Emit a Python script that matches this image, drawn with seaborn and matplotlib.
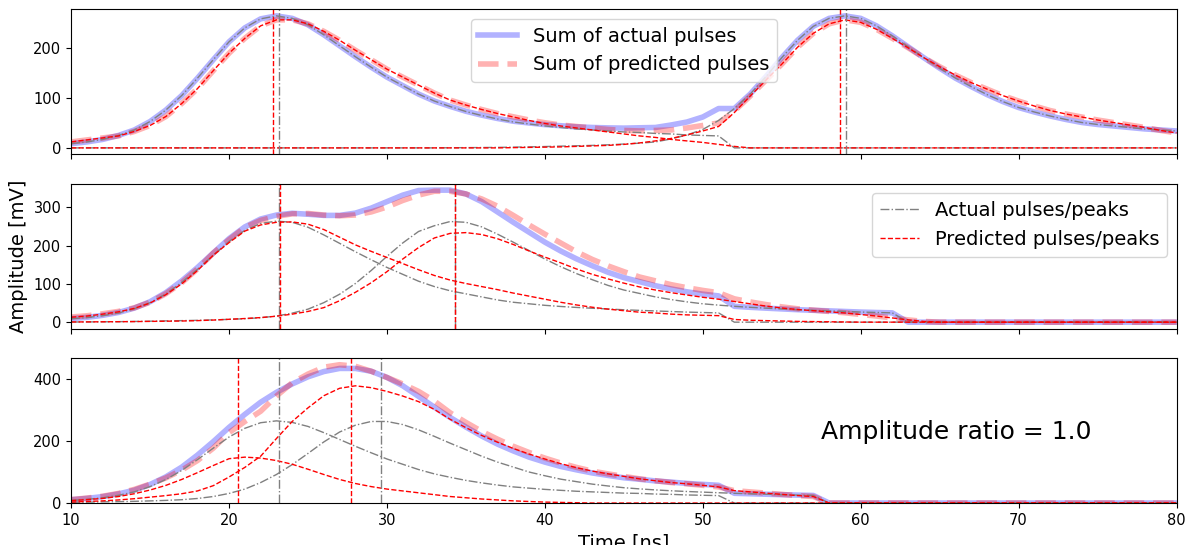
import numpy as np
import matplotlib
matplotlib.use('Agg')
import matplotlib.pyplot as plt
import seaborn as sns

# Time axis shared by all curves (ns)
time_ns = list(range(10, 81))

# Panel 1 - two well separated pulses (values in mV)
p1_actual_1 = [8.5, 12, 17, 25, 36, 53, 76, 105, 140, 177,
               213, 241, 259, 265, 260, 247, 227, 205, 183, 162,
               142, 125, 108, 94, 83, 73, 65, 58, 52, 48,
               44, 41, 38, 36, 34, 32, 31, 29, 28, 26,
               25, 24]                                   # t = 10..51
p1_actual_2 = [0.3, 0.5, 0.7, 1, 1.5, 2, 2.7, 3.5, 4.2, 5,
               6.2, 7.7, 9.4, 12, 18, 26, 37, 55, 79, 108,
               143, 181, 216, 244, 260, 265, 260, 245, 225, 203,
               181, 160, 140, 123, 107, 93, 81, 72, 64, 57,
               51, 47, 44, 41, 38, 36, 34]               # t = 34..80
p1_pred_1 = [12, 16, 20, 24, 33, 45, 63, 89, 119, 155,
             190, 220, 245, 257, 257, 249, 234, 216, 196, 177,
             158, 142, 126, 110, 96, 86, 77, 69, 62, 55,
             49, 44, 40, 36, 32, 28, 24, 21, 17, 14,
             11, 7, 3, 0]                                # t = 10..53
p1_pred_2 = [0.5, 1, 1.5, 2, 3, 4, 5, 7, 10, 14,
             19, 26, 34, 43, 71, 104, 136, 168, 202, 230,
             249, 257, 252, 238, 220, 201, 181, 163, 146, 131,
             118, 105, 94, 84, 75, 68, 62, 56, 51, 46,
             41, 35, 30]                                 # t = 38..80
p1_actual_peaks = [23.15, 59.05]
p1_pred_peaks = [22.76, 58.67]

# Panel 2 - two overlapping pulses
p2_actual_1 = [9, 12, 17, 24, 35, 51, 74, 104, 138, 175,
               211, 240, 258, 264, 261, 248, 228, 206, 184, 163,
               143, 125, 107, 93, 82, 74, 66, 58, 52, 48,
               44, 41, 38.5, 36.4, 34.4, 32.4, 30.8, 29.3, 27.8, 26.3,
               25.2, 24.2]                               # t = 10..51
p2_actual_2 = [0.4, 0.6, 0.9, 1.3, 1.8, 2.5, 3.3, 4, 4.8, 5.9,
               7.3, 9, 11.6, 16, 23.6, 34, 51, 73, 101, 135,
               172, 207, 237, 252, 263, 261, 249, 230, 209, 187,
               165, 145, 127, 111, 96, 84, 75, 66, 59, 53,
               48, 44.5, 41.4, 38.8, 36.6, 34.6, 32.6, 31, 29.5, 28,
               26.4, 25.3, 24.3]                         # t = 10..62
p2_pred_1 = [13, 16, 21, 27, 36, 50, 72, 100, 135, 175,
             208, 238, 254, 261, 262, 256, 242, 222, 202, 185,
             169, 153, 137, 122, 110, 101, 93, 85, 76, 68,
             60, 52, 45, 39, 34, 30, 26, 24, 21, 19,
             18, 17, 7, 5, 4, 3, 2, 1.5, 1, 0.5,
             0]                                          # t = 10..60
p2_pred_2 = [0.5, 0.7, 1, 1.2, 1.5, 2, 2.5, 3, 4, 5.5,
             7.5, 9.5, 12, 15.5, 21, 28, 38, 56, 78, 103,
             132, 165, 195, 220, 232, 234, 229, 218, 203, 186,
             170, 155, 139, 125, 113, 102, 92, 84, 77, 71,
             65, 60, 54, 48, 42, 37, 33, 30, 27, 24,
             20, 16, 11, 6, 2, 0]                        # t = 10..65
p2_actual_peaks = [23.17, 34.28]
p2_pred_peaks = [23.2, 34.3]

# Panel 3 - strongly overlapping pulses
p3_actual_1 = [8.5, 12, 17, 25, 36, 53, 76, 105, 140, 177,
               213, 241, 259, 265, 260, 247, 227, 205, 183, 162,
               142, 125, 108, 94, 83, 73, 65, 58, 52, 48,
               44, 41, 38, 36, 34, 32, 31, 29, 28, 26,
               25, 24]                                   # t = 10..51
p3_actual_2 = [2.3, 3, 3.8, 4.5, 5.5, 6.9, 8.5, 10.7, 14.7, 21,
               31, 45, 66, 92, 124, 160, 197, 229, 251, 263,
               263, 253, 236, 215, 193, 172, 151, 132, 116, 100,
               88, 77, 69, 61, 55, 49.4, 45.6, 42.3, 39.5, 37.2,
               35.2, 33.2, 31.4, 29.9, 28.4, 26.9, 25.6, 24.6]  # t = 10..57
p3_pred_1 = [8, 11, 15, 21, 30, 42, 57, 76, 98, 121,
             143, 148, 145, 137, 125, 109, 92, 76, 63, 53,
             45, 39, 33, 27, 21, 17, 13, 10, 7, 5,
             3, 2, 1, 0]                                 # t = 10..43
p3_pred_2 = [3, 5, 7, 10, 14, 19, 24, 30, 39, 56,
             84, 115, 151, 208, 263, 307, 346, 370, 378, 372,
             360, 345, 327, 302, 270, 243, 218, 196, 176, 158,
             142, 127, 114, 103, 94, 86, 78, 72, 66, 62,
             57, 52, 40, 36, 32, 28, 24, 21, 0]          # t = 10..58
p3_actual_peaks = [23.15, 29.6]
p3_pred_peaks = [20.55, 27.7]

amplitude_ratio = 1.0


def pad(start, vals):
    # place a pulse onto the shared time axis (zero outside its support)
    out = np.zeros(len(time_ns))
    i = time_ns.index(start)
    out[i:i + len(vals)] = vals
    return out


def draw_panel(ax, actual, predicted, actual_peaks, pred_peaks):
    t = np.array(time_ns)
    sns.lineplot(x=t, y=np.sum(actual, axis=0), ax=ax, color='blue',
                 alpha=0.3, lw=4, legend=False)
    h_sum_act = ax.lines[-1]
    sns.lineplot(x=t, y=np.sum(predicted, axis=0), ax=ax, color='red',
                 alpha=0.3, lw=4, linestyle='--', legend=False)
    h_sum_pred = ax.lines[-1]
    for p in actual:
        sns.lineplot(x=t, y=p, ax=ax, color='grey', lw=1, linestyle='-.', legend=False)
    h_act = ax.lines[-1]
    for p in predicted:
        sns.lineplot(x=t, y=p, ax=ax, color='red', lw=1, linestyle='--', legend=False)
    h_pred = ax.lines[-1]
    for x in actual_peaks:
        ax.axvline(x, color='grey', lw=1, linestyle='-.')
    for x in pred_peaks:
        ax.axvline(x, color='red', lw=1, linestyle='--')
    ax.set_xlim(10, 80)
    ax.tick_params(labelsize=10.5)
    return h_sum_act, h_sum_pred, h_act, h_pred


fig, axes = plt.subplots(3, 1, figsize=(11.86, 5.45), dpi=100, sharex=True)
fig.subplots_adjust(left=0.06, right=0.992, top=0.983, bottom=0.077, hspace=0.2)

h1 = draw_panel(axes[0],
                [pad(10, p1_actual_1), pad(34, p1_actual_2)],
                [pad(10, p1_pred_1), pad(38, p1_pred_2)],
                p1_actual_peaks, p1_pred_peaks)
h2 = draw_panel(axes[1],
                [pad(10, p2_actual_1), pad(10, p2_actual_2)],
                [pad(10, p2_pred_1), pad(10, p2_pred_2)],
                p2_actual_peaks, p2_pred_peaks)
h3 = draw_panel(axes[2],
                [pad(10, p3_actual_1), pad(10, p3_actual_2)],
                [pad(10, p3_pred_1), pad(10, p3_pred_2)],
                p3_actual_peaks, p3_pred_peaks)

axes[0].legend(handles=[h1[0], h1[1]],
               labels=['Sum of actual pulses', 'Sum of predicted pulses'],
               loc='upper center', fontsize=14)
axes[1].legend(handles=[h2[2], h2[3]],
               labels=['Actual pulses/peaks', 'Predicted pulses/peaks'],
               loc='upper right', fontsize=14)

axes[2].set_ylim(bottom=0)
axes[2].text(57.5, 230, f'Amplitude ratio = {amplitude_ratio}', fontsize=18, va='center')

axes[1].set_ylabel('Amplitude [mV]', fontsize=14)
axes[2].set_xlabel('Time [ns]', fontsize=14)
axes[2].set_xticks(range(10, 81, 10))

fig.savefig('out.png')
